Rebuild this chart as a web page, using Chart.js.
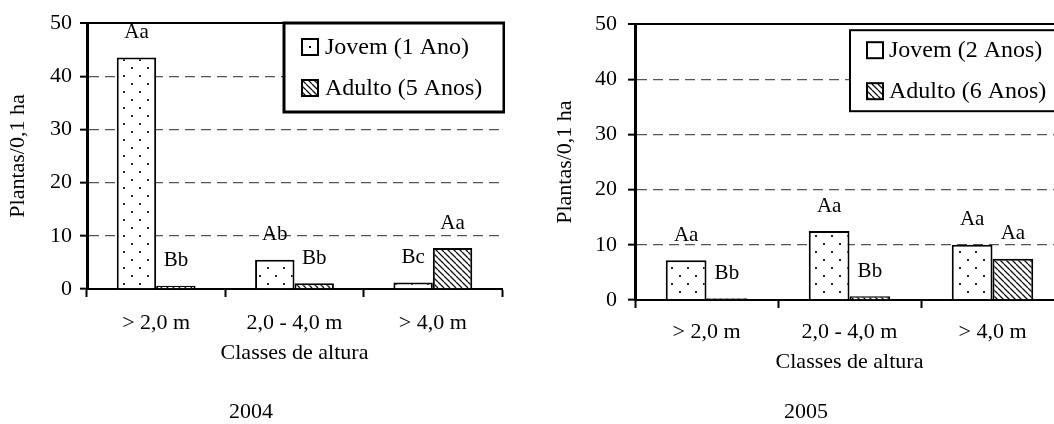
<!DOCTYPE html>
<html>
<head>
<meta charset="utf-8">
<script src="https://cdn.jsdelivr.net/npm/chart.js@4.4.0/dist/chart.umd.min.js"></script>
<style>
  html, body { margin: 0; padding: 0; background: #fff; overflow: hidden; width: 1054px; height: 424px; }
  #wrap { position: relative; width: 1054px; height: 424px; overflow: hidden; }
  .box { position: absolute; top: 0; height: 424px; }
  #box2004 { left: 0; width: 505px; }
  #box2005 { left: 548px; width: 544px; }
</style>
</head>
<body>
<div id="wrap">
  <div class="box" id="box2004"><canvas id="chart2004"></canvas></div>
  <div class="box" id="box2005"><canvas id="chart2005"></canvas></div>
</div>
<script>
// height classes and y ticks
const categories = ['> 2,0 m', '2,0 - 4,0 m', '> 4,0 m'];
const yTicks = [0, 10, 20, 30, 40, 50];

// 2004 (plants / 0.1 ha)
const jovem2004 = [43.5, 5.5, 1.2];
const adulto2004 = [0.6, 1.1, 7.7];
const letrasJovem2004 = ['Aa', 'Ab', 'Bc'];
const letrasAdulto2004 = ['Bb', 'Bb', 'Aa'];
const nomes2004 = ['Jovem (1 Ano)', 'Adulto (5 Anos)'];

// 2005
const jovem2005 = [7.2, 12.5, 10.0];
const adulto2005 = [0.3, 0.7, 7.5];
const letrasJovem2005 = ['Aa', 'Aa', 'Aa'];
const letrasAdulto2005 = ['Bb', 'Bb', 'Aa'];
const nomes2005 = ['Jovem (2 Anos)', 'Adulto (6 Anos)'];

const FAMILY = '"Liberation Serif", "Times New Roman", serif';

function dotPattern() {
  const c = document.createElement('canvas');
  c.width = 16; c.height = 16;
  const g = c.getContext('2d');
  g.fillStyle = '#fff';
  g.fillRect(0, 0, 16, 16);
  g.fillStyle = '#222';
  g.fillRect(3, 3, 2, 2);
  g.fillRect(11, 11, 2, 2);
  return g.createPattern(c, 'repeat');
}

function hatchPattern() {
  const s = 6;
  const c = document.createElement('canvas');
  c.width = s; c.height = s;
  const g = c.getContext('2d');
  g.fillStyle = '#fff';
  g.fillRect(0, 0, s, s);
  g.strokeStyle = '#111';
  g.lineWidth = 1.3;
  g.beginPath();
  for (let k = -1; k <= 1; k++) {
    g.moveTo(k * s, 0);
    g.lineTo(k * s + s, s);
  }
  g.stroke();
  return g.createPattern(c, 'repeat');
}

// letters above each bar
const letrasPlugin = {
  id: 'letras',
  afterDatasetsDraw(chart, args, opts) {
    const ctx = chart.ctx;
    ctx.save();
    ctx.font = '21px ' + FAMILY;
    ctx.fillStyle = '#000';
    ctx.textAlign = 'center';
    ctx.textBaseline = 'middle';
    opts.letras.forEach(function (arr, di) {
      chart.getDatasetMeta(di).data.forEach(function (bar, i) {
        ctx.fillText(arr[i], bar.x, bar.y - 25);
      });
    });
    ctx.restore();
  }
};

// boxed legend inside the plot area
const caixaLegenda = {
  id: 'caixaLegenda',
  afterDraw(chart, args, o) {
    const ctx = chart.ctx;
    const a = chart.chartArea;
    const x0 = a.left + o.left;
    const y0 = a.top + o.top;
    ctx.save();
    ctx.fillStyle = '#fff';
    ctx.fillRect(x0, y0, o.width, o.height);
    ctx.lineWidth = o.lineWidth;
    ctx.strokeStyle = '#000';
    ctx.strokeRect(x0, y0, o.width, o.height);

    ctx.font = '24px ' + FAMILY;
    ctx.textBaseline = 'middle';
    ctx.textAlign = 'left';
    o.nomes.forEach(function (nome, i) {
      const cy = y0 + o.rows[i];
      const mx = x0 + o.markerX;
      const ms = 16;
      ctx.fillStyle = i === 0 ? '#fff' : hatchPattern();
      ctx.fillRect(mx, cy - ms / 2, ms, ms);
      if (i === 0 && o.markerDot) {
        ctx.fillStyle = '#000';
        ctx.fillRect(mx + ms / 2 - 1, cy - 1, 2, 2);
      }
      ctx.lineWidth = 2;
      ctx.strokeStyle = '#000';
      ctx.strokeRect(mx, cy - ms / 2, ms, ms);
      ctx.fillStyle = '#000';
      ctx.fillText(nome, x0 + o.textX, cy + 1);
    });
    ctx.restore();
  }
};

function makeChart(id, ano, jovem, adulto, letrasJ, letrasA, nomes, L) {
  const font = { family: FAMILY, size: 22 };
  return new Chart(document.getElementById(id), {
    type: 'bar',
    data: {
      labels: categories,
      datasets: [
        { label: nomes[0], data: jovem, backgroundColor: dotPattern(), borderColor: '#000', borderWidth: 2 },
        { label: nomes[1], data: adulto, backgroundColor: hatchPattern(), borderColor: '#000', borderWidth: 2 }
      ]
    },
    options: {
      responsive: true,
      maintainAspectRatio: false,
      animation: false,
      events: [],
      layout: { padding: L.padding },
      datasets: { bar: { categoryPercentage: 0.57, barPercentage: 1.0 } },
      scales: {
        x: {
          afterFit: function (s) { s.height = L.xHeight; },
          ticks: { font: font, color: '#000', padding: L.xTickPad, maxRotation: 0, autoSkip: false },
          grid: { drawOnChartArea: false, offset: true, tickLength: 8, tickColor: '#000', tickWidth: 2 },
          border: { color: '#000', width: 2 },
          title: { display: true, text: 'Classes de altura', font: font, color: '#000', padding: { top: 0, bottom: L.xTitlePad } }
        },
        y: {
          min: 0,
          max: 50,
          afterBuildTicks: function (s) { s.ticks = yTicks.map(function (v) { return { value: v }; }); },
          afterFit: function (s) { s.width = L.yWidth; },
          ticks: { font: font, color: '#000', padding: L.yTickPad },
          grid: {
            color: function (c) {
              if (c.tick.value === 0) return 'rgba(0,0,0,0)';
              return c.tick.value === 50 ? '#000' : '#555';
            },
            lineWidth: function (c) { return c.tick.value === 50 ? 2 : 1.3; },
            tickColor: '#000',
            tickLength: 7,
            tickWidth: 2
          },
          border: {
            color: '#000',
            width: 3,
            dash: function (c) { return (c.type === 'tick' && c.tick.value !== 50) ? [10, 6] : []; }
          },
          title: { display: true, text: 'Plantas/0,1 ha', font: font, color: '#000', padding: { top: L.yTitlePad, bottom: 0 } }
        }
      },
      plugins: {
        legend: { display: false },
        tooltip: { enabled: false },
        title: {
          display: true,
          position: 'bottom',
          text: ano,
          color: '#000',
          font: { family: FAMILY, size: 22, weight: 'normal', lineHeight: 1.1 },
          padding: { top: 0, bottom: 0 }
        },
        letras: { letras: [letrasJ, letrasA] },
        caixaLegenda: Object.assign({ nomes: nomes }, L.legenda)
      }
    },
    plugins: [letrasPlugin, caixaLegenda]
  });
}

makeChart('chart2004', '2004', jovem2004, adulto2004, letrasJovem2004, letrasAdulto2004, nomes2004, {
  padding: { top: 23, right: 3, left: 0, bottom: 0 },
  yWidth: 87, yTickPad: 8, yTitlePad: 4.8,
  xHeight: 110.8, xTickPad: 12.8, xTitlePad: 33.6,
  legenda: { left: 197, top: 0, width: 220, height: 89, lineWidth: 3, rows: [24, 65], markerX: 18, textX: 41, markerDot: true }
});

makeChart('chart2005', '2005', jovem2005, adulto2005, letrasJovem2005, letrasAdulto2005, nomes2005, {
  padding: { top: 21, right: 28, left: 0, bottom: 0 },
  yWidth: 87, yTickPad: 11, yTitlePad: 3.8,
  xHeight: 99.8, xTickPad: 10.8, xTitlePad: 24.6,
  legenda: { left: 215, top: 6, width: 230, height: 81, lineWidth: 2, rows: [20, 61], markerX: 17, textX: 39, markerDot: false }
});
</script>
</body>
</html>
